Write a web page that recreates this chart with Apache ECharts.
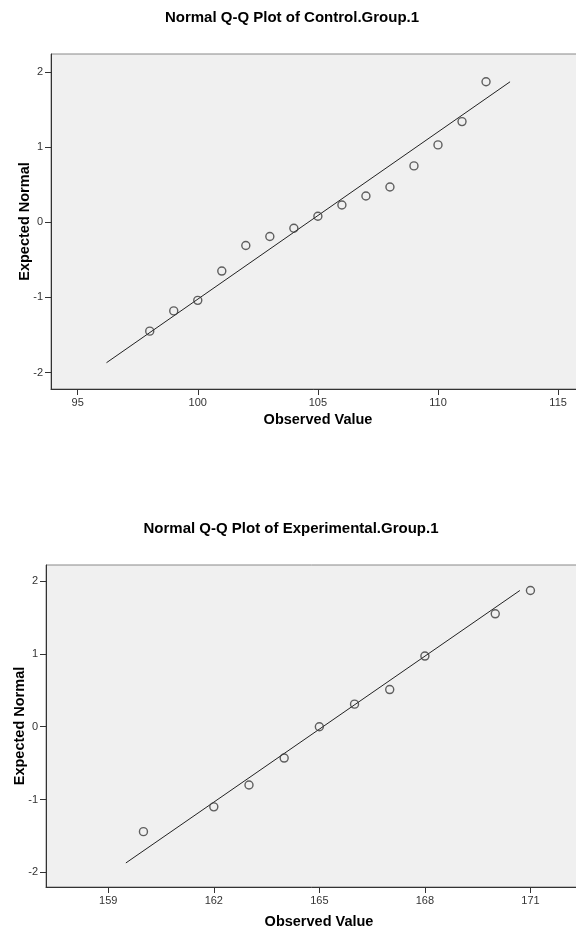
<!DOCTYPE html>
<html lang="en">
<head>
    <meta charset="UTF-8">
    <title>Normal Q-Q Plots</title>
    <script src="https://cdn.jsdelivr.net/npm/echarts@6/dist/echarts.min.js" charset="utf-8"></script>
    <style>
        html, body { margin: 0; padding: 0; background: #fff; }
        #main { width: 576px; height: 931px; }
    </style>
</head>
<body>
<div id="main"></div>
<script>
    // Control.Group.1
    var controlObserved = [98, 99, 100, 101, 102, 103, 104, 105, 106, 107, 108, 109, 110, 111, 112];
    var controlExpected = [-1.45, -1.18, -1.04, -0.65, -0.31, -0.19, -0.08, 0.08, 0.23, 0.35, 0.47, 0.75, 1.03, 1.34, 1.87];
    var controlLineX = [96.2, 113.0];
    var controlLineY = [-1.87, 1.87];
    var controlXTicks = [95, 100, 105, 110, 115];

    // Experimental.Group.1
    var expObserved = [160, 162, 163, 164, 165, 166, 167, 168, 170, 171];
    var expExpected = [-1.44, -1.10, -0.80, -0.43, 0.00, 0.31, 0.51, 0.97, 1.55, 1.87];
    var expLineX = [159.5, 170.7];
    var expLineY = [-1.87, 1.87];
    var expXTicks = [159, 162, 165, 168, 171];

    var yTicks = [-2, -1, 0, 1, 2];

    function pairs(xs, ys) {
        var out = [];
        for (var i = 0; i < xs.length; i++) {
            out.push([xs[i], ys[i]]);
        }
        return out;
    }

    var font = '"Liberation Sans", Arial, sans-serif';

    function xAxisFor(gridIndex, min, max, ticks, gap) {
        return {
            type: 'value',
            gridIndex: gridIndex,
            min: min,
            max: max,
            name: 'Observed Value',
            nameLocation: 'middle',
            nameGap: gap,
            nameMoveOverlap: false,
            nameTextStyle: {fontFamily: font, fontWeight: 'bold', fontSize: 14.5, color: '#000'},
            splitLine: {show: false},
            axisLine: {onZero: false, lineStyle: {color: '#333', width: 1}},
            axisTick: {customValues: ticks, length: 6, lineStyle: {color: '#333'}},
            axisLabel: {customValues: ticks, margin: 8, fontFamily: font, fontSize: 11, color: '#333'}
        };
    }

    function yAxisFor(gridIndex, min, max) {
        return {
            type: 'value',
            gridIndex: gridIndex,
            min: min,
            max: max,
            name: 'Expected Normal',
            nameLocation: 'middle',
            nameGap: 19,
            nameMoveOverlap: false,
            nameTextStyle: {fontFamily: font, fontWeight: 'bold', fontSize: 14.5, color: '#000'},
            splitLine: {show: false},
            axisLine: {onZero: false, lineStyle: {color: '#333', width: 1}},
            axisTick: {customValues: yTicks, length: 6, lineStyle: {color: '#333'}},
            axisLabel: {customValues: yTicks, margin: 8, fontFamily: font, fontSize: 11, color: '#333'}
        };
    }

    function pointSeries(idx, data) {
        return {
            type: 'scatter',
            xAxisIndex: idx,
            yAxisIndex: idx,
            data: data,
            symbol: 'circle',
            symbolSize: 8,
            itemStyle: {color: 'transparent', borderColor: '#3a3a3a', borderWidth: 1.4},
            z: 3
        };
    }

    function lineSeries(idx, data) {
        return {
            type: 'line',
            xAxisIndex: idx,
            yAxisIndex: idx,
            data: data,
            symbol: 'none',
            lineStyle: {color: '#222', width: 1},
            z: 2
        };
    }

    var myChart = echarts.init(document.getElementById('main'));
    var option = {
        animation: false,
        backgroundColor: '#fff',
        title: [{
            text: 'Normal Q-Q Plot of Control.Group.1',
            left: 287,
            top: 5,
            textAlign: 'center',
            textStyle: {fontFamily: font, fontWeight: 'bold', fontSize: 15, color: '#000'}
        }, {
            text: 'Normal Q-Q Plot of Experimental.Group.1',
            left: 286,
            top: 516,
            textAlign: 'center',
            textStyle: {fontFamily: font, fontWeight: 'bold', fontSize: 15, color: '#000'}
        }],
        grid: [{
            left: 51, top: 54, width: 534, height: 335,
            outerBoundsMode: 'none', containLabel: false,
            show: true, backgroundColor: '#f0f0f0', borderColor: '#888', borderWidth: 1
        }, {
            left: 46, top: 565, width: 546, height: 322,
            outerBoundsMode: 'none', containLabel: false,
            show: true, backgroundColor: '#f0f0f0', borderColor: '#888', borderWidth: 1
        }],
        xAxis: [
            xAxisFor(0, 93.89, 116.12, controlXTicks, 23),
            xAxisFor(1, 157.23, 172.75, expXTicks, 27)
        ],
        yAxis: [
            yAxisFor(0, -2.22, 2.24),
            yAxisFor(1, -2.2, 2.22)
        ],
        series: [
            lineSeries(0, pairs(controlLineX, controlLineY)),
            pointSeries(0, pairs(controlObserved, controlExpected)),
            lineSeries(1, pairs(expLineX, expLineY)),
            pointSeries(1, pairs(expObserved, expExpected))
        ]
    };
    myChart.setOption(option);
</script>
</body>
</html>
